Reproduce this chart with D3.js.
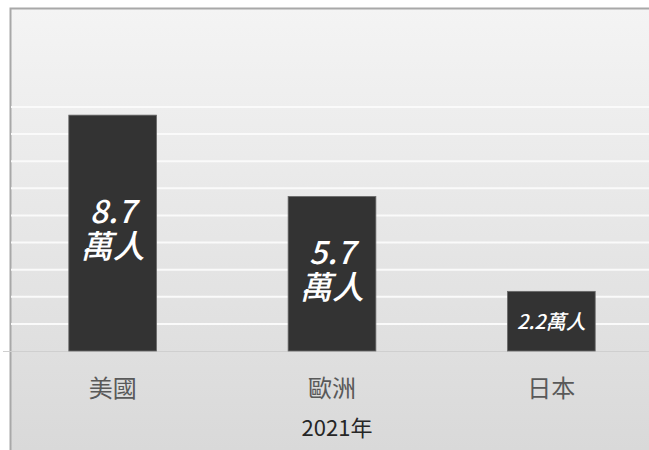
<!DOCTYPE html>
<html>
<head>
<meta charset="utf-8">
<script src="https://cdn.jsdelivr.net/npm/d3@7"></script>
<style>
  html, body { margin: 0; background: #fff; overflow: hidden; }
  svg { display: block; }
  text { font-family: "Noto Sans CJK TC", "Noto Sans", sans-serif; }
</style>
</head>
<body>
<svg id="chart"></svg>
<script>
const width = 649;
const height = 450;

// 資料
const categories = ['美國', '歐洲', '日本'];
const values = [8.7, 5.7, 2.2];
const unit = '萬人';
const axisTitle = '2021年';
const yMax = 9;

const svg = d3.select('#chart')
    .attr('width', width)
    .attr('height', height);

// 背景漸層
const defs = svg.append('defs');
const grad = defs.append('linearGradient')
    .attr('id', 'bg')
    .attr('x1', 0).attr('y1', 0).attr('x2', 0).attr('y2', 1);
grad.append('stop').attr('offset', '0%').attr('stop-color', '#f4f4f4');
grad.append('stop').attr('offset', '100%').attr('stop-color', '#d9d9d9');

// 圖表外框 (右下被裁掉)
svg.append('path')
    .attr('d', `M10.5,${height} V8.5 H${width}`)
    .attr('fill', 'none')
    .attr('stroke', '#a8a8a8')
    .attr('stroke-width', 2);
svg.insert('rect', 'path')
    .attr('x', 10.5)
    .attr('y', 8.5)
    .attr('width', width - 10.5)
    .attr('height', height - 8.5)
    .attr('fill', 'url(#bg)');

const x = d3.scaleBand()
    .domain(categories)
    .range([3, 661])
    .paddingInner(0.6)
    .paddingOuter(0.3);

const y = d3.scaleLinear()
    .domain([0, yMax])
    .range([351, 107]);

// 格線
svg.append('g')
    .selectAll('line')
    .data(y.ticks(yMax).filter(d => d > 0))
    .enter()
    .append('line')
    .attr('x1', 11)
    .attr('x2', width)
    .attr('y1', d => y(d))
    .attr('y2', d => y(d))
    .attr('stroke', '#fafafa')
    .attr('stroke-width', 2);

// 底線
svg.append('line')
    .attr('x1', 3)
    .attr('x2', width)
    .attr('y1', y(0) + 0.5)
    .attr('y2', y(0) + 0.5)
    .attr('stroke', '#cfcfcf')
    .attr('stroke-width', 1);

// 長條
svg.append('g')
    .selectAll('rect')
    .data(values)
    .enter()
    .append('rect')
    .attr('x', (d, i) => x(categories[i]))
    .attr('y', d => y(d))
    .attr('width', x.bandwidth())
    .attr('height', d => y(0) - y(d))
    .attr('fill', '#333333')
    .attr('stroke', '#6a6a6a')
    .attr('stroke-width', 0.8);

// 長條內標籤
svg.append('g')
    .selectAll('g')
    .data(values)
    .enter()
    .append('g')
    .each(function (d, i) {
        const g = d3.select(this);
        const cx = x(categories[i]) + x.bandwidth() / 2;
        const cy = (y(d) + y(0)) / 2;
        const lines = (y(0) - y(d) > 100)
            ? [[d.toFixed(1), cy - 10], [unit, cy + 25]]
            : [[d.toFixed(1) + unit, cy + 8]];
        const size = lines.length > 1 ? 32 : 20;
        g.selectAll('text')
            .data(lines)
            .enter()
            .append('text')
            .attr('x', cx)
            .attr('y', l => l[1])
            .attr('text-anchor', 'middle')
            .attr('font-size', size)
            .attr('font-style', 'italic')
            .attr('font-weight', 500)
            .attr('fill', '#ffffff')
            .text(l => l[0]);
    });

// 類別軸
const xAxis = svg.append('g')
    .attr('transform', `translate(0,${y(0)})`)
    .call(d3.axisBottom(x).tickSize(0).tickPadding(29));
xAxis.select('.domain').remove();
xAxis.selectAll('text')
    .attr('font-size', 24)
    .attr('fill', '#595959')
    .attr('font-family', '"Noto Sans CJK TC", sans-serif');

// 軸標題
svg.append('text')
    .attr('x', 337)
    .attr('y', 436)
    .attr('text-anchor', 'middle')
    .attr('font-size', 22)
    .attr('fill', '#262626')
    .text(axisTitle);
</script>
</body>
</html>
